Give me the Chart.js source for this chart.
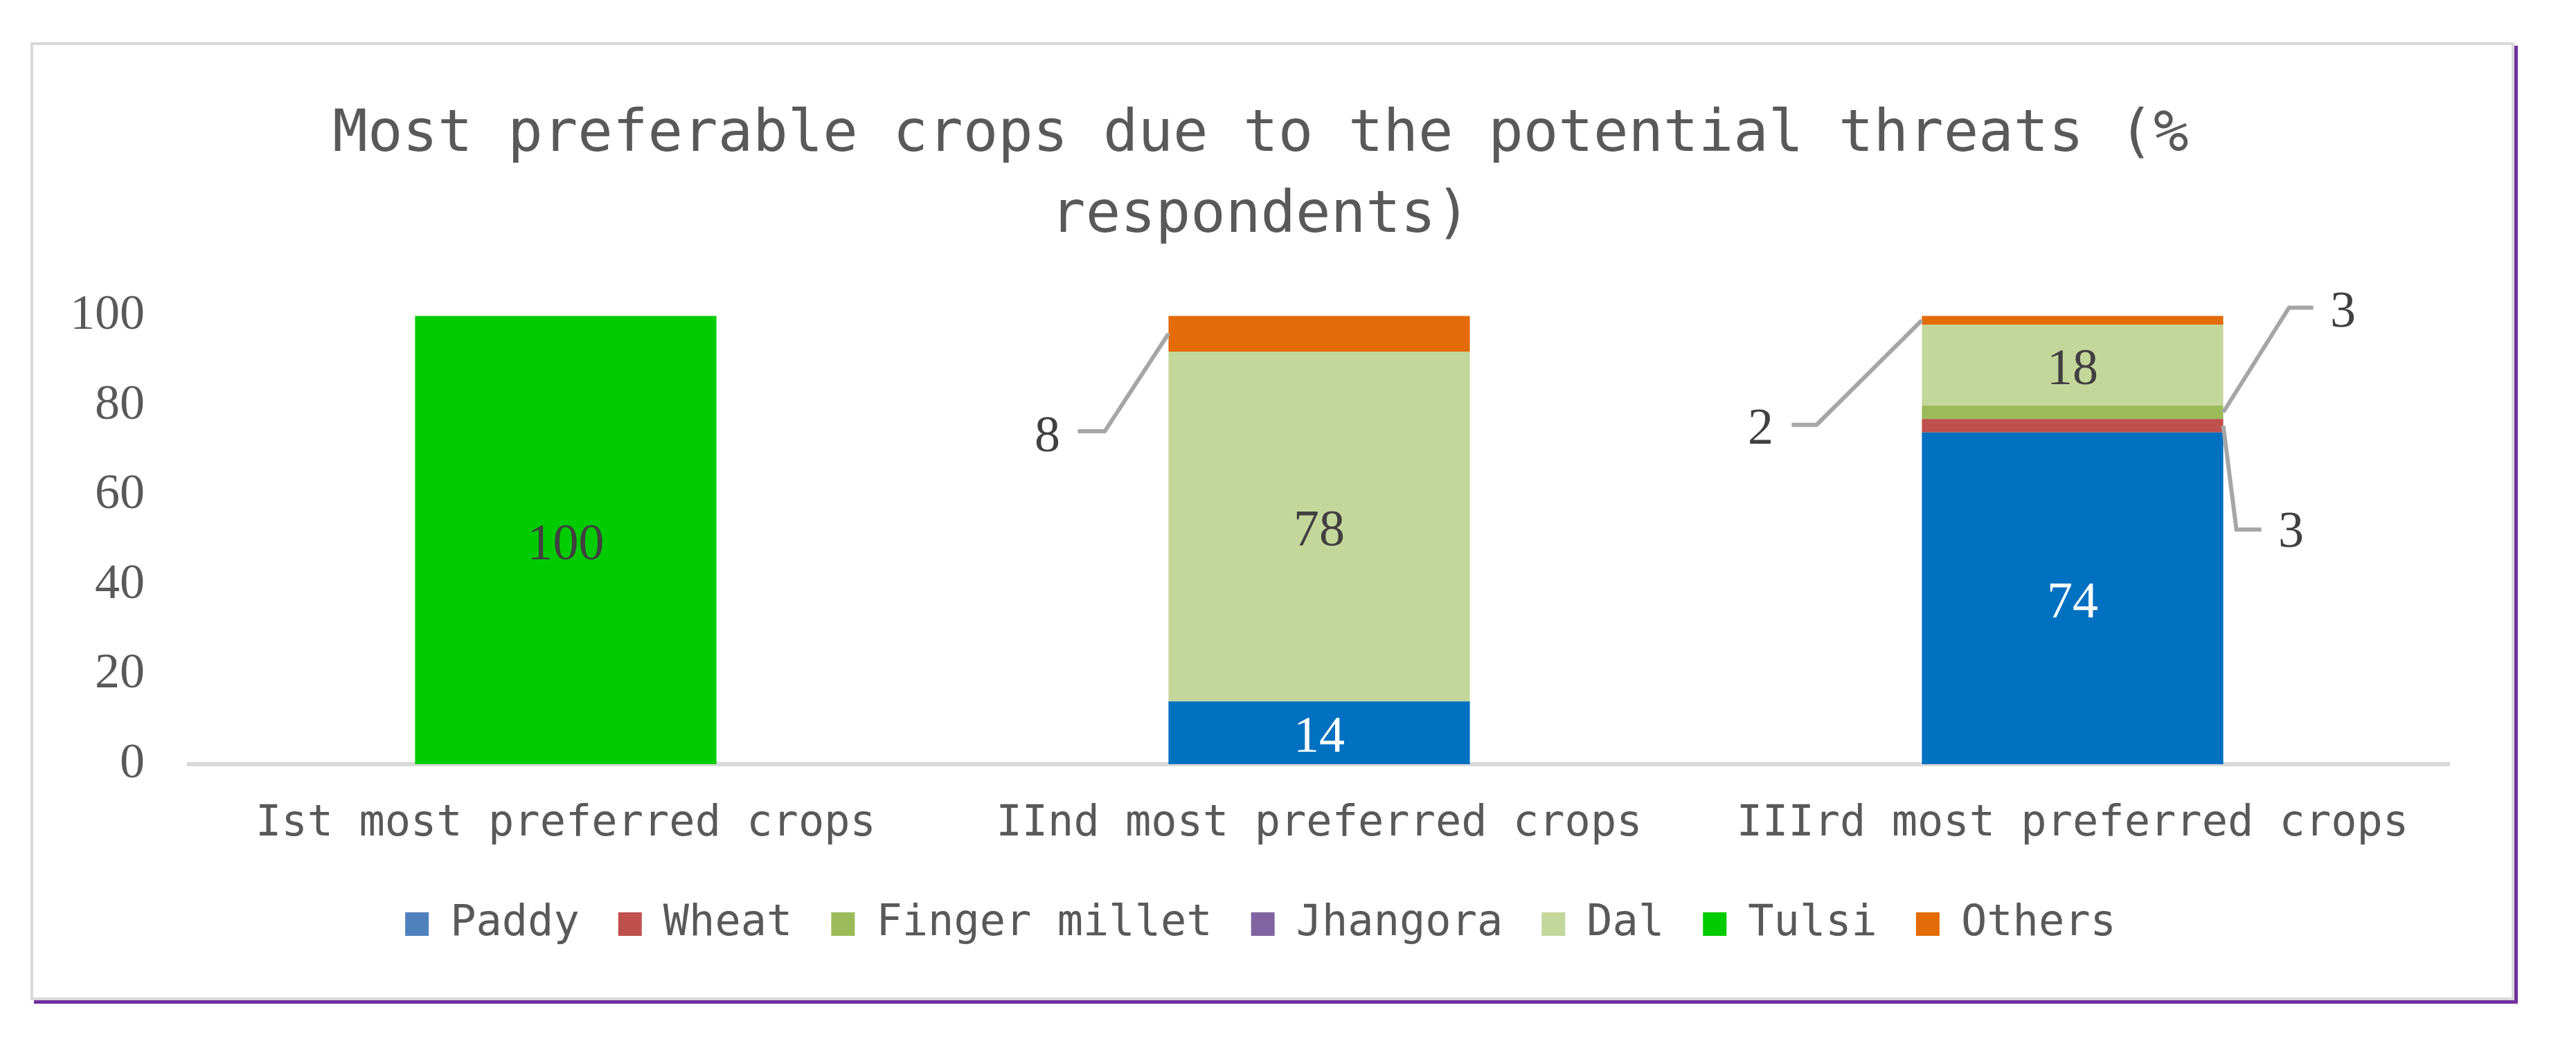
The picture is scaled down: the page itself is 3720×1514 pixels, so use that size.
<!DOCTYPE html>
<html>
<head>
<meta charset="utf-8">
<script src="https://cdn.jsdelivr.net/npm/chart.js@4/dist/chart.umd.min.js"></script>
<style>
  html, body { margin: 0; padding: 0; background: #fff; }
  #frame {
    position: absolute; left: 44px; top: 61px;
    width: 3587px; height: 1384px; box-sizing: border-box;
    border: 4px solid #d9d9d9;
    box-shadow: 5px 5px 0 #7030a0;
  }
  #myChart { position: absolute; left: 0; top: 0; }
</style>
</head>
<body>
<div id="frame"></div>
<canvas id="myChart" width="3720" height="1514"></canvas>
<script>
// categories (x axis)
var categories = ['Ist most preferred crops', 'IInd most preferred crops', 'IIIrd most preferred crops'];

// % respondents per crop, one value per category
var paddy        = [0, 14, 74];
var wheat        = [0, 0, 3];
var fingerMillet = [0, 0, 3];
var jhangora     = [0, 0, 0];
var dal          = [0, 78, 18];
var tulsi        = [100, 0, 0];
var others       = [0, 8, 2];

var yTicks = [0, 20, 40, 60, 80, 100];

var seriesNames  = ['Paddy', 'Wheat', 'Finger millet', 'Jhangora', 'Dal', 'Tulsi', 'Others'];
var seriesData   = [paddy, wheat, fingerMillet, jhangora, dal, tulsi, others];
var barColors    = ['#0070c0', '#c0504d', '#9bbb59', '#8064a2', '#c4d79b', '#00cc00', '#e36c09'];
var legendColors = ['#4f81bd', '#c0504d', '#9bbb59', '#8064a2', '#c4d79b', '#00cc00', '#e36c09'];

// small segments get a label pulled out with a leader line (offsets in px from the segment edge)
var callouts = [
    { ds: 6, idx: 1, side: 'left',  bend: [-92, 141],  end: [-131, 141], text: [-175, 150] },
    { ds: 6, idx: 2, side: 'left',  bend: [-152, 151], end: [-188, 151], text: [-233, 159] },
    { ds: 2, idx: 2, side: 'right', bend: [95, -151],  end: [130, -151], text: [173, -143] },
    { ds: 1, idx: 2, side: 'right', bend: [19, 150],   end: [55, 150],   text: [98, 156] }
];

var textFont = '"DejaVu Sans Mono", monospace';
var numFont  = '"Liberation Serif", serif';

var valueLabels = {
    id: 'valueLabels',
    afterDatasetsDraw: function(chart) {
        var ctx = chart.ctx;
        ctx.save();
        ctx.font = '74px ' + numFont;
        ctx.textAlign = 'center';
        ctx.textBaseline = 'middle';
        chart.data.datasets.forEach(function(ds, i) {
            var meta = chart.getDatasetMeta(i);
            meta.data.forEach(function(bar, j) {
                var v = ds.data[j];
                if (!v) return;
                var y0 = (bar.y + bar.base) / 2;
                var c = callouts.find(function(o) { return o.ds === i && o.idx === j; });
                if (c) {
                    var x0 = c.side === 'left' ? bar.x - bar.width / 2 : bar.x + bar.width / 2;
                    ctx.strokeStyle = '#a6a6a6';
                    ctx.lineWidth = 6;
                    ctx.beginPath();
                    ctx.moveTo(x0, y0);
                    ctx.lineTo(x0 + c.bend[0], y0 + c.bend[1]);
                    ctx.lineTo(x0 + c.end[0], y0 + c.end[1]);
                    ctx.stroke();
                    ctx.fillStyle = '#404040';
                    ctx.fillText(String(v), x0 + c.text[0], y0 + c.text[1]);
                } else {
                    ctx.fillStyle = i === 0 ? '#ffffff' : '#404040';
                    ctx.fillText(String(v), bar.x, y0 + 8);
                }
            });
        });
        ctx.restore();
    }
};

var ctx = document.getElementById('myChart').getContext('2d');
var myChart = new Chart(ctx, {
    type: 'bar',
    data: {
        labels: categories,
        datasets: seriesNames.map(function(name, i) {
            return {
                label: name,
                data: seriesData[i],
                backgroundColor: barColors[i],
                borderWidth: 0,
                categoryPercentage: 1,
                barPercentage: 0.4
            };
        })
    },
    options: {
        responsive: false,
        devicePixelRatio: 1,
        animation: false,
        layout: { padding: { top: 137, left: 104, right: 183, bottom: 138 } },
        plugins: {
            tooltip: { enabled: false },
            title: {
                display: true,
                text: ['Most preferable crops due to the potential threats (%', 'respondents)'],
                color: '#595959',
                font: { family: textFont, size: 84, weight: 'normal', lineHeight: 1.4 },
                padding: { top: 0, bottom: 84 }
            },
            legend: {
                position: 'bottom',
                labels: {
                    color: '#595959',
                    font: { family: textFont, size: 62 },
                    boxWidth: 34,
                    boxHeight: 34,
                    padding: 56,
                    generateLabels: function(chart) {
                        var items = Chart.defaults.plugins.legend.labels.generateLabels(chart);
                        items.forEach(function(it, k) {
                            it.fillStyle = legendColors[k];
                            it.strokeStyle = legendColors[k];
                            it.lineWidth = 0;
                        });
                        return items;
                    }
                }
            }
        },
        scales: {
            x: {
                stacked: true,
                grid: { display: false, drawTicks: false },
                border: { display: true, color: '#d9d9d9', width: 6 },
                ticks: {
                    color: '#595959',
                    font: { family: textFont, size: 62 },
                    padding: 50
                },
                afterFit: function(scale) { scale.height = 144; }
            },
            y: {
                stacked: true,
                min: 0,
                max: 100,
                grid: { display: false, drawTicks: false },
                border: { display: false },
                afterBuildTicks: function(scale) {
                    scale.ticks = yTicks.map(function(v) { return { value: v }; });
                },
                afterFit: function(scale) { scale.width = 169; },
                ticks: {
                    color: '#595959',
                    font: { family: numFont, size: 72 },
                    padding: 64
                }
            }
        }
    },
    plugins: [valueLabels]
});
</script>
</body>
</html>
